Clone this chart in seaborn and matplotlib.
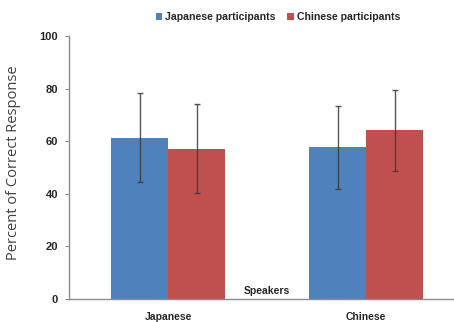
import matplotlib
matplotlib.use("Agg")
import matplotlib.pyplot as plt
import seaborn as sns
import pandas as pd
from matplotlib.patches import Patch

speakers = ["Japanese", "Chinese"]
groups = ["Japanese participants", "Chinese participants"]
japanese_part = [61.3, 57.6]
chinese_part = [57.2, 64.1]
japanese_err = [17.0, 15.6]
chinese_err = [17.0, 15.5]
yticks = [0, 20, 40, 60, 80, 100]

colors = ["#4F81BD", "#C0504D"]

sns.set_style("white")
plt.rcParams["font.family"] = ["Liberation Sans", "DejaVu Sans"]

rows = []
for i, s in enumerate(speakers):
    rows.append({"Speakers": s, "Group": groups[0], "Value": japanese_part[i], "Err": japanese_err[i]})
    rows.append({"Speakers": s, "Group": groups[1], "Value": chinese_part[i], "Err": chinese_err[i]})
df = pd.DataFrame(rows)

fig = plt.figure(figsize=(4.54, 3.22), dpi=100)
ax = fig.add_axes([0.152, 0.0714, 0.848, 0.817])
sns.barplot(data=df, x="Speakers", y="Value", hue="Group", order=speakers,
            hue_order=groups, palette=colors, width=0.576, errorbar=None,
            saturation=1, ax=ax, legend=False, linewidth=0)

# error bars at patch centres
for gi, g in enumerate(groups):
    sub = df[df["Group"] == g].set_index("Speakers").loc[speakers]
    patches = ax.patches[gi * len(speakers):(gi + 1) * len(speakers)]
    xs = [p.get_x() + p.get_width() / 2 for p in patches]
    ax.errorbar(xs, sub["Value"].values, yerr=sub["Err"].values, fmt="none",
                ecolor="#3a3a3a", elinewidth=1.0, capsize=2, capthick=1.0, alpha=0.85)

ax.set_xlim(-0.5, 1.444)
ax.set_ylim(0, 100)
ax.set_yticks(yticks)
ax.set_yticklabels([str(t) for t in yticks], fontsize=8, fontweight="bold")
ax.set_xticks(range(len(speakers)))
ax.set_xticklabels(speakers, fontsize=7.5, fontweight="bold")
ax.set_xlabel("")
ax.text(0.513, 0.012, "Speakers", transform=ax.transAxes, ha="center", va="bottom",
        fontsize=7.5, fontweight="bold")
ax.set_ylabel("Percent of Correct Response", fontsize=10.5, color="#404040",
              family=["Open Sans", "DejaVu Sans"])
ax.yaxis.set_label_coords(-0.125, 0.52)

for side in ["top", "right"]:
    ax.spines[side].set_visible(False)
for side in ["left", "bottom"]:
    ax.spines[side].set_color("#8c8c8c")
    ax.spines[side].set_linewidth(1.0)
ax.tick_params(axis="y", which="both", left=True, length=3, color="#8c8c8c", pad=5)
ax.tick_params(axis="x", bottom=False, pad=6)

handles = [Patch(facecolor=c, edgecolor="none") for c in colors]
fig.legend(handles, groups, loc="center", bbox_to_anchor=(0.612, 0.947), ncol=2,
           frameon=False, prop={"weight": "bold", "size": 7.6},
           handlelength=0.6, handleheight=0.6, handletextpad=0.3, columnspacing=1.1)

fig.savefig("out.png", dpi=100)
